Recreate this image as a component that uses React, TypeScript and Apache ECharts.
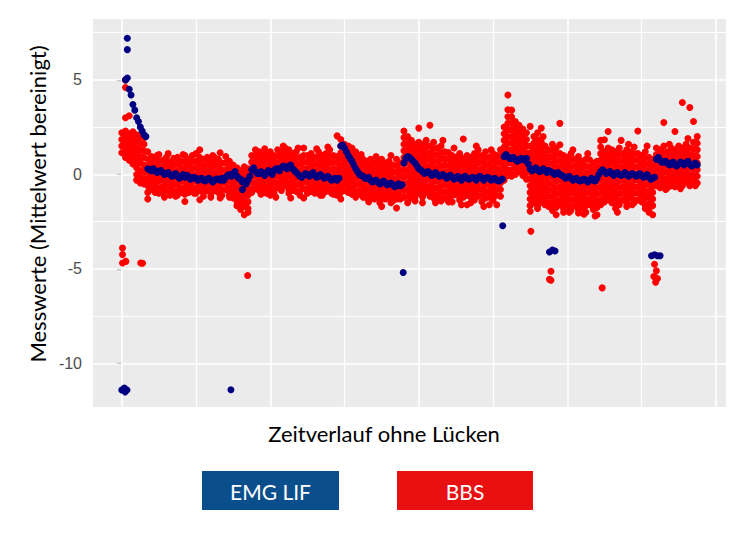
import React, { useEffect, useRef } from "react";
import * as echarts from "echarts";

// ---- axis / grid values ----
const yTicks = [-10, -5, 0, 5];
const yMinorGrid = [-7.5, -2.5, 2.5, 7.5];
const xMajorGrid = [0, 40, 80, 120, 160];
const xMinorGrid = [20, 60, 100, 140];
const X_MIN = -7.75;
const X_MAX = 162.75;
const Y_MIN = -12.3;
const Y_MAX = 8.22;

const seriesNames = ["EMG LIF", "BBS"];
const xTitle = "Zeitverlauf ohne Lücken";
const yTitle = "Messwerte (Mittelwert bereinigt)";

// ---- EMG LIF: one value per time step (index = step) ----
const emgTrend: (number | null)[] = [
  null, 5.0, 4.5, 3.7, 3.0, 2.5, 2.1, 0.3, 0.2, 0.2,
  0.15, 0.1, 0.05, 0.0, -0.05, -0.1, -0.1, -0.15, -0.1, -0.2,
  -0.2, -0.25, -0.3, -0.25, -0.3, -0.3, -0.25, -0.2, -0.15, 0.0,
  0.05, -0.1, -0.25, -0.35, -0.3, 0.25, 0.15, 0.05, 0.05, 0.1,
  0.1, 0.2, 0.3, 0.35, 0.4, 0.45, 0.3, 0.1, -0.1, -0.05,
  0.0, 0.0, -0.05, -0.1, -0.1, -0.15, -0.2, -0.25, -0.3, 1.5,
  1.4, 1.0, 0.7, 0.3, 0.0, -0.1, -0.2, -0.3, -0.35, -0.4,
  -0.45, -0.45, -0.5, -0.55, -0.6, -0.6, 0.6, 0.95, 0.8, 0.6,
  0.3, 0.15, 0.1, 0.05, 0.0, 0.0, -0.05, -0.1, -0.1, -0.15,
  -0.2, -0.2, -0.15, -0.2, -0.2, -0.2, -0.15, -0.2, -0.2, -0.2,
  -0.25, -0.3, -0.3, 0.95, 0.95, 0.85, 0.8, 0.75, 0.8, 0.85,
  0.3, 0.25, 0.25, 0.2, 0.2, 0.2, 0.1, 0.05, 0.0, -0.1,
  -0.15, -0.2, -0.25, -0.3, -0.3, -0.3, -0.3, -0.3, -0.2, 0.15,
  0.15, 0.1, 0.05, 0.05, 0.0, 0.0, 0.0, 0.0, 0.0, -0.05,
  -0.05, -0.1, -0.15, -0.2, 0.8, 0.75, 0.65, 0.6, 0.55, 0.5,
  0.55, 0.6, 0.6, 0.55, 0.5, 0.5,
];

// EMG LIF readings between the steps (index i is drawn at step i + 0.5)
const emgHalf: (number | null)[] = [
  null, null, null, null, null, null, null,
  0.25, 0.3, 0.1, 0.2, 0.0, 0.1, -0.1, 0.05, -0.2, 0.0,
  -0.05, -0.25, -0.15, -0.3, -0.2, -0.35, -0.2, -0.4, -0.25, -0.3,
  -0.3, -0.05, -0.1, 0.15, -0.2, -0.4, -0.5, -0.1, 0.35, 0.05,
  0.15, -0.05, 0.2, 0.0, 0.3, 0.2, 0.45, 0.3, 0.5, 0.2,
  0.0, -0.15, 0.05, -0.1, 0.1, -0.15, 0.0, -0.2, -0.1, -0.3,
  -0.2, -0.2, 1.55, 1.2, 0.85, 0.5, 0.15, -0.05, -0.2, -0.15,
  -0.4, -0.3, -0.5, -0.35, -0.55, -0.45, -0.65, -0.5, -0.55, 0.85,
  0.9, 0.7, 0.45, 0.25, 0.05, 0.15, -0.05, 0.1, -0.1, 0.0,
  -0.2, -0.05, -0.25, -0.1, -0.3, -0.1, -0.25, -0.15, -0.3, -0.1,
  -0.3, -0.15, -0.3, -0.2, -0.35, -0.25, 1.05, 0.85, 0.9, 0.7,
  0.85, 0.75, 0.55, 0.2, 0.35, 0.15, 0.3, 0.1, 0.15, 0.0,
  0.1, -0.05, -0.2, -0.1, -0.3, -0.2, -0.35, -0.25, -0.4, -0.2,
  -0.35, 0.0, 0.25, 0.05, 0.15, -0.05, 0.1, -0.05, 0.1, -0.1,
  0.05, -0.1, 0.05, -0.15, 0.0, -0.25, -0.15, 0.9, 0.65, 0.7,
  0.5, 0.65, 0.45, 0.65, 0.5, 0.7, 0.45, 0.6,
];

// EMG LIF extra points [step, value]
const emgExtra: [number, number][] = [
  [1.5, 7.2], [1.5, 6.6], [1.5, 5.1], [2.5, 4.2], [3.5, 3.4], [4.5, 2.8], [5.5, 2.3], [6.5, 2.0],
  [0, -11.4], [0.7, -11.3], [1.4, -11.4], [0.9, -11.5],
  [29.4, -11.39], [32.5, -0.8], [75.8, -5.19], [102.6, -2.71],
  [115.2, -4.1], [116.0, -4.0], [116.7, -4.05],
  [142.7, -4.3], [143.5, -4.25], [144.3, -4.3], [145.0, -4.3],
];

// ---- BBS: several values per time step (index = step) ----
const bbsColumns: number[][] = [
  [2.2, 1.85, 1.5, 1.15],
  [5.0, 4.6, 3.0, 2.3, 1.95, 1.6, 1.25, 0.9],
  [3.1, 2.15, 1.8, 1.45, 1.1, 0.75],
  [2.25, 1.9, 1.55, 1.2, 0.85, 0.55],
  [2.1, 1.75, 1.4, 1.05, 0.7, 0.35, 0.0, -0.3],
  [2.0, 1.65, 1.3, 0.95, 0.6, 0.2, -0.15, -0.45],
  [1.95, 1.6, 1.25, 0.9, 0.5, 0.15, -0.2, -0.5],
  [1.2, 0.8, 0.45, 0.1, -0.25, -0.6, -0.95, -1.3],
  [0.95, 0.6, 0.25, -0.1, -0.45, -0.8],
  [0.8, 0.45, 0.1, -0.25, -0.6, -0.95],
  // 10
  [1.05, 0.7, 0.35, 0.0, -0.35, -0.7, -1.0],
  [0.75, 0.4, 0.05, -0.3, -0.65, -1.0],
  [0.9, 0.55, 0.2, -0.15, -0.5, -0.85],
  [0.65, 0.3, -0.05, -0.4, -0.75, -1.1],
  [0.85, 0.5, 0.15, -0.2, -0.55, -0.9],
  [0.9, 0.55, 0.2, -0.15, -0.5, -0.85, -1.1],
  [0.7, 0.35, 0.0, -0.35, -0.7, -0.95],
  [1.0, 0.65, 0.3, -0.05, -0.4, -0.75, -1.05, -1.43],
  [0.8, 0.45, 0.1, -0.25, -0.6, -0.95],
  [1.0, 0.65, 0.3, -0.05, -0.4, -0.75],
  // 20
  [1.1, 0.7, 0.35, 0.0, -0.35, -0.7, -1.0],
  [1.3, 0.9, 0.55, 0.2, -0.15, -0.5, -0.85, -1.34],
  [0.8, 0.45, 0.1, -0.25, -0.6, -0.95, -1.15],
  [0.9, 0.55, 0.2, -0.15, -0.5, -0.85],
  [0.7, 0.35, 0.0, -0.35, -0.7, -1.05, -1.2],
  [0.9, 0.55, 0.2, -0.15, -0.5, -0.85],
  [0.8, 0.45, 0.1, -0.25, -0.6, -0.95],
  [0.6, 0.25, -0.1, -0.45, -0.8, -1.1],
  [0.95, 0.6, 0.25, -0.1, -0.45, -0.8],
  [0.7, 0.35, 0.0, -0.35, -0.7, -1.05, -1.2],
  // 30
  [0.5, 0.15, -0.2, -0.55, -0.9, -1.25],
  [0.35, 0.0, -0.35, -0.7, -1.05, -1.4, -1.65],
  [0.2, -0.15, -0.5, -0.85, -1.2, -1.55, -1.85],
  [0.4, 0.05, -0.3, -0.65, -1.0, -1.35, -1.7, -2.13],
  [0.3, -0.05, -0.4, -0.75, -1.1, -1.45, -1.8, -2.0],
  [1.0, 0.65, 0.3, -0.05, -0.4, -0.75, -0.95],
  [1.3, 0.95, 0.6, 0.25, -0.1, -0.45, -0.75],
  [1.2, 0.85, 0.5, 0.15, -0.2, -0.55, -0.85],
  [1.0, 0.65, 0.3, -0.05, -0.4, -0.75, -0.95],
  [1.1, 0.75, 0.4, 0.05, -0.3, -0.65, -1.0],
  // 40
  [1.2, 0.85, 0.5, 0.15, -0.2, -0.55, -0.9, -1.1],
  [1.0, 0.65, 0.3, -0.05, -0.4, -0.75, -1.0],
  [1.3, 0.95, 0.6, 0.25, -0.1, -0.45, -0.7],
  [1.2, 0.85, 0.5, 0.15, -0.2, -0.55, -0.85],
  [1.4, 1.05, 0.7, 0.35, 0.0, -0.35, -0.6],
  [1.3, 0.95, 0.6, 0.25, -0.1, -0.45, -0.8, -1.0],
  [1.1, 0.75, 0.4, 0.05, -0.3, -0.65, -0.85],
  [1.2, 0.85, 0.5, 0.15, -0.2, -0.55, -0.9],
  [0.9, 0.55, 0.2, -0.15, -0.5, -0.85, -1.1],
  [1.4, 1.0, 0.65, 0.3, -0.05, -0.4, -0.75, -1.25],
  // 50
  [1.0, 0.65, 0.3, -0.05, -0.4, -0.75, -1.0],
  [1.1, 0.75, 0.4, 0.05, -0.3, -0.65, -0.9],
  [0.9, 0.55, 0.2, -0.15, -0.5, -0.85, -1.0],
  [1.2, 0.85, 0.5, 0.15, -0.2, -0.55, -0.8],
  [1.0, 0.65, 0.3, -0.05, -0.4, -0.75, -1.1],
  [1.1, 0.75, 0.4, 0.05, -0.3, -0.65, -0.9],
  [1.3, 0.95, 0.6, 0.25, -0.1, -0.45, -0.75],
  [1.0, 0.65, 0.3, -0.05, -0.4, -0.75, -1.05],
  [2.04, 0.95, 0.6, 0.25, -0.1, -0.45, -0.8, -1.1],
  [1.85, 1.5, 1.15, 0.8, 0.45, 0.1, -0.25, -0.6, -0.95, -1.3],
  // 60
  [1.6, 1.25, 0.9, 0.55, 0.2, -0.15, -0.5, -0.85],
  [1.5, 1.15, 0.8, 0.45, 0.1, -0.25, -0.6, -0.95],
  [1.4, 1.05, 0.7, 0.35, 0.0, -0.35, -0.7, -1.05],
  [1.2, 0.85, 0.5, 0.15, -0.2, -0.55, -0.9, -1.2],
  [0.9, 0.55, 0.2, -0.15, -0.5, -0.85, -1.05],
  [0.8, 0.45, 0.1, -0.25, -0.6, -0.95, -1.2],
  [0.7, 0.35, 0.0, -0.35, -0.7, -1.05, -1.25],
  [0.8, 0.45, 0.1, -0.25, -0.6, -0.95, -1.15],
  [0.6, 0.25, -0.1, -0.45, -0.8, -1.15, -1.3],
  [0.7, 0.35, 0.0, -0.35, -0.7, -1.05, -1.2],
  // 70
  [0.8, 0.45, 0.1, -0.25, -0.6, -0.95, -1.3, -1.69],
  [0.6, 0.25, -0.1, -0.45, -0.8, -1.15, -1.3],
  [0.7, 0.35, 0.0, -0.35, -0.7, -1.05, -1.2],
  [0.5, 0.15, -0.2, -0.55, -0.9, -1.25, -1.4],
  [0.8, 0.45, 0.1, -0.25, -0.6, -0.95, -1.3, -1.78],
  [0.6, 0.25, -0.1, -0.45, -0.8, -1.15, -1.3],
  [2.3, 1.95, 1.6, 1.25, 0.9, 0.55, 0.2, -0.15, -0.5, -0.85, -1.2],
  [2.0, 1.65, 1.3, 0.95, 0.6, 0.25, -0.1, -0.45, -0.8, -1.15, -1.5],
  [1.8, 1.45, 1.1, 0.75, 0.4, 0.05, -0.3, -0.65, -1.0, -1.25],
  [1.6, 1.25, 0.9, 0.55, 0.2, -0.15, -0.5, -0.85, -1.2, -1.4],
  // 80
  [2.45, 1.7, 1.35, 1.0, 0.65, 0.3, -0.05, -0.4, -0.75, -1.0],
  [1.6, 1.25, 0.9, 0.55, 0.2, -0.15, -0.5, -0.85, -1.2, -1.5],
  [1.8, 1.45, 1.1, 0.75, 0.4, 0.05, -0.3, -0.65, -0.95],
  [2.6, 1.5, 1.15, 0.8, 0.45, 0.1, -0.25, -0.6, -0.95, -1.15],
  [1.7, 1.35, 1.0, 0.65, 0.3, -0.05, -0.4, -0.75, -1.1, -1.25],
  [1.4, 1.05, 0.7, 0.35, 0.0, -0.35, -0.7, -1.05, -1.2],
  [1.5, 1.15, 0.8, 0.45, 0.1, -0.25, -0.6, -0.95, -1.3, -1.4],
  [1.2, 0.85, 0.5, 0.15, -0.2, -0.55, -0.9, -1.25],
  [1.16, 0.8, 0.45, 0.1, -0.25, -0.6, -0.95, -1.3, -1.45],
  [1.0, 0.65, 0.3, -0.05, -0.4, -0.75, -1.1, -1.45],
  // 90
  [0.9, 0.55, 0.2, -0.15, -0.5, -0.85, -1.07],
  [1.1, 0.75, 0.4, 0.05, -0.3, -0.65, -1.0, -1.35],
  [1.87, 0.85, 0.5, 0.15, -0.2, -0.55, -0.9, -1.2],
  [1.0, 0.65, 0.3, -0.05, -0.4, -0.75, -1.1, -1.6],
  [0.9, 0.55, 0.2, -0.15, -0.5, -0.85, -1.2, -1.5],
  [1.1, 0.75, 0.4, 0.05, -0.3, -0.65, -1.0, -1.35],
  [1.3, 0.95, 0.6, 0.25, -0.1, -0.45, -0.8, -1.15],
  [1.0, 0.65, 0.3, -0.05, -0.4, -0.75, -1.1, -1.45],
  [1.2, 0.85, 0.5, 0.15, -0.2, -0.55, -0.9, -1.25],
  [0.9, 0.55, 0.2, -0.15, -0.5, -0.85, -1.2, -1.6],
  // 100
  [1.1, 0.75, 0.4, 0.05, -0.3, -0.65, -1.0, -1.35],
  [1.0, 0.65, 0.3, -0.05, -0.4, -0.75, -1.1, -1.6],
  [1.3, 0.95, 0.6, 0.25, -0.1, -0.45, -0.8, -1.15],
  [2.5, 2.15, 1.8, 1.45, 1.1, 0.75, 0.4, 0.05, -0.3],
  [4.2, 3.42, 3.05, 2.7, 2.35, 2.0, 1.65, 1.3, 0.95, 0.6, 0.25, -0.05],
  [3.4, 3.05, 2.7, 2.35, 2.0, 1.65, 1.3, 0.95, 0.6, 0.25, -0.1],
  [2.8, 2.45, 2.1, 1.75, 1.4, 1.05, 0.7, 0.35, 0.0],
  [2.6, 2.25, 1.9, 1.55, 1.2, 0.85, 0.5, 0.15],
  [2.4, 2.05, 1.7, 1.35, 1.0, 0.65, 0.3, -0.05],
  [2.2, 1.85, 1.5, 1.15, 0.8, 0.45, 0.1, -0.25],
  // 110
  [2.54, 1.5, 1.15, 0.8, 0.45, 0.1, -0.25, -0.6, -0.95, -1.3, -1.65, -1.95],
  [2.0, 1.65, 1.3, 0.95, 0.6, 0.25, -0.1, -0.45, -0.8, -1.15, -1.5],
  [2.2, 1.85, 1.5, 1.15, 0.8, 0.45, 0.1, -0.25, -0.6, -0.95, -1.3, -1.65, -1.8],
  [2.45, 1.7, 1.35, 1.0, 0.65, 0.3, -0.05, -0.4, -0.75, -1.1, -1.45],
  [1.5, 1.15, 0.8, 0.45, 0.1, -0.25, -0.6, -0.95, -1.3, -1.6],
  [1.3, 0.95, 0.6, 0.25, -0.1, -0.45, -0.8, -1.15, -1.5, -1.7],
  [1.6, 1.25, 0.9, 0.55, 0.2, -0.15, -0.5, -0.85, -1.2, -1.55, -1.9],
  [1.4, 1.05, 0.7, 0.35, 0.0, -0.35, -0.7, -1.05, -1.4, -1.75, -2.13],
  [2.7, 1.57, 1.1, 0.75, 0.4, 0.05, -0.3, -0.65, -1.0, -1.35, -1.6],
  [1.0, 0.65, 0.3, -0.05, -0.4, -0.75, -1.1, -1.45, -1.8, -2.0],
  // 120
  [0.9, 0.55, 0.2, -0.15, -0.5, -0.85, -1.2, -1.55, -1.7],
  [1.1, 0.75, 0.4, 0.05, -0.3, -0.65, -1.0, -1.35, -1.7, -1.9],
  [0.8, 0.45, 0.1, -0.25, -0.6, -0.95, -1.3, -1.65],
  [0.95, 0.6, 0.25, -0.1, -0.45, -0.8, -1.15, -1.5, -1.85, -2.04],
  [0.7, 0.35, 0.0, -0.35, -0.7, -1.05, -1.4, -1.75],
  [0.8, 0.45, 0.1, -0.25, -0.6, -0.95, -1.3, -1.65, -2.0],
  [0.78, 0.4, 0.05, -0.3, -0.65, -1.0, -1.35, -1.6],
  [0.6, 0.25, -0.1, -0.45, -0.8, -1.15, -1.5, -1.85],
  [0.7, 0.35, 0.0, -0.35, -0.7, -1.05, -1.4, -1.75, -2.13],
  [1.8, 1.45, 1.1, 0.75, 0.4, 0.05, -0.3, -0.65, -1.0, -1.35, -1.6],
  // 130
  [1.83, 1.2, 0.85, 0.5, 0.15, -0.2, -0.55, -0.9, -1.25, -1.45],
  [2.27, 1.4, 1.05, 0.7, 0.35, 0.0, -0.35, -0.7, -1.05, -1.34],
  [1.3, 0.95, 0.6, 0.25, -0.1, -0.45, -0.8, -1.15, -1.5],
  [1.2, 0.85, 0.5, 0.15, -0.2, -0.55, -0.9, -1.25, -1.6, -1.8],
  [1.4, 1.05, 0.7, 0.35, 0.0, -0.35, -0.7, -1.05, -1.4, -1.6],
  [1.1, 0.75, 0.4, 0.05, -0.3, -0.65, -1.0, -1.35],
  [1.3, 0.95, 0.6, 0.25, -0.1, -0.45, -0.8, -1.15, -1.5, -1.7],
  [1.2, 0.85, 0.5, 0.15, -0.2, -0.55, -0.9, -1.25],
  [1.45, 1.1, 0.75, 0.4, 0.05, -0.3, -0.65, -1.0, -1.35, -1.5],
  [2.3, 1.1, 0.75, 0.4, 0.05, -0.3, -0.65, -1.0, -1.35],
  // 140
  [1.0, 0.65, 0.3, -0.05, -0.4, -0.75, -1.1, -1.45],
  [1.2, 0.85, 0.5, 0.15, -0.2, -0.55, -0.9, -1.25, -1.6, -1.8],
  [0.9, 0.55, 0.2, -0.15, -0.5, -0.85, -1.2, -1.55, -1.9, -2.0],
  [0.8, 0.45, 0.1, -0.25, -0.6, -0.95, -1.3, -1.65, -2.13],
  [1.4, 1.05, 0.7, 0.35, 0.0, -0.35, -0.6],
  [1.3, 0.95, 0.6, 0.25, -0.1, -0.45, -0.7],
  [2.75, 1.5, 1.15, 0.8, 0.45, 0.1, -0.25, -0.5],
  [1.2, 0.85, 0.5, 0.15, -0.2, -0.55, -0.7],
  [1.4, 1.05, 0.7, 0.35, 0.0, -0.35, -0.6],
  [2.27, 1.3, 0.95, 0.6, 0.25, -0.1, -0.45, -0.65],
  // 150
  [1.5, 1.15, 0.8, 0.45, 0.1, -0.25, -0.5],
  [3.8, 1.4, 1.05, 0.7, 0.35, 0.0, -0.35, -0.6],
  [1.6, 1.25, 0.9, 0.55, 0.2, -0.15, -0.4],
  [3.54, 1.4, 1.05, 0.7, 0.35, 0.0, -0.35, -0.6],
  [2.8, 1.7, 1.35, 1.0, 0.65, 0.3, -0.05, -0.3],
  [2.0, 1.65, 1.3, 0.95, 0.6, 0.25, -0.1, -0.45],
];

// BBS isolated points [step, value]
const bbsExtra: [number, number][] = [
  [0.2, -3.89], [0.2, -4.24], [0.2, -4.68], [1.1, -4.6],
  [5.1, -4.68], [5.6, -4.7], [33.9, -5.35],
  [110.2, -3.01], [115.6, -5.12], [115.6, -5.6], [115.2, -5.55],
  [129.4, -6.0],
  [143.5, -4.75], [144.0, -5.1], [143.3, -5.4], [144.3, -5.5], [143.8, -5.7],
  // ragged upper edge of the band
  [9.5, 1.0], [12.5, 1.1], [16.5, 1.05], [24.5, 1.0], [26.5, 1.15], [38.5, 1.35],
  [43.5, 1.5], [47.5, 1.4], [52.5, 1.35], [55.5, 1.45], [64.5, 1.05], [68.5, 0.95],
  [72.5, 1.0], [86.5, 1.8], [89.5, 1.4], [95.5, 1.5], [99.5, 1.3], [113.5, 2.0],
  [121.5, 1.3], [125.5, 1.1], [134.5, 1.8], [136.5, 1.6], [141.5, 1.5], [147.5, 1.6],
  [152.5, 1.9],
  // ragged lower edge of the band
  [11.5, -1.2], [14.5, -1.15], [19.5, -1.0], [26.5, -1.25], [37.5, -1.05], [41.5, -1.2],
  [45.5, -1.25], [53.5, -1.1], [56.5, -1.0], [66.5, -1.45], [69.5, -1.5], [72.5, -1.5],
  [84.5, -1.5], [91.5, -1.6], [97.5, -1.7], [120.5, -2.0], [124.5, -2.1], [127.5, -2.2],
  [133.5, -2.0], [137.5, -1.6], [146.5, -0.8], [150.5, -0.75], [154.5, -0.6],
];

const emgData: [number, number][] = [
  ...emgTrend
    .map((v, i) => (v === null ? null : ([i, v] as [number, number])))
    .filter((p): p is [number, number] => p !== null),
  ...emgHalf
    .map((v, i) => (v === null ? null : ([i + 0.5, v] as [number, number])))
    .filter((p): p is [number, number] => p !== null),
  ...emgExtra,
];
const bbsData: [number, number][] = [
  ...bbsColumns.flatMap((vals, i) => vals.map((v) => [i, v] as [number, number])),
  ...bbsExtra,
];

export default function App() {
  const ref = useRef<HTMLDivElement>(null);
  useEffect(() => {
    if (!ref.current) return;
    const chart = echarts.init(ref.current, undefined, { renderer: "svg" });
    const gridLines = [
      ...yTicks.map((v) => ({ yAxis: v, lineStyle: { width: 1.6 } })),
      ...yMinorGrid.map((v) => ({ yAxis: v, lineStyle: { width: 1.1 } })),
      ...xMajorGrid.map((v) => ({ xAxis: v, lineStyle: { width: 1.6 } })),
      ...xMinorGrid.map((v) => ({ xAxis: v, lineStyle: { width: 1.2 } })),
    ];
    chart.setOption({
      animation: false,
      backgroundColor: "#FFFFFF",
      grid: {
        left: 93,
        right: 24,
        top: 19,
        bottom: 127,
        show: true,
        backgroundColor: "#EBEBEB",
        borderWidth: 0,
      },
      xAxis: {
        type: "value",
        min: X_MIN,
        max: X_MAX,
        show: false,
        splitLine: { show: false },
      },
      yAxis: {
        type: "value",
        min: Y_MIN,
        max: Y_MAX,
        splitLine: { show: false },
        axisLine: { show: false },
        axisTick: {
          show: true,
          customValues: yTicks,
          length: 5,
          lineStyle: { color: "#333333", width: 1.2 },
        },
        axisLabel: {
          customValues: yTicks,
          color: "#4D4D4D",
          fontSize: 16,
          fontFamily: "Liberation Sans",
          margin: 11,
        },
      },
      series: [
        {
          type: "scatter",
          name: "grid",
          data: [],
          z: 1,
          silent: true,
          markLine: {
            z: 1,
            silent: true,
            symbol: ["none", "none"],
            label: { show: false },
            emphasis: { disabled: true },
            lineStyle: { color: "#FFFFFF", type: "solid" },
            data: gridLines,
          },
        },
        {
          type: "scatter",
          name: seriesNames[1],
          data: bbsData,
          symbolSize: 7,
          itemStyle: { color: "#FF0000", opacity: 1 },
          z: 2,
        },
        {
          type: "scatter",
          name: seriesNames[0],
          data: emgData,
          symbolSize: 7,
          itemStyle: { color: "#000080", opacity: 1 },
          z: 3,
        },
      ],
      graphic: [
        {
          type: "text",
          x: 37,
          y: 204,
          rotation: Math.PI / 2,
          style: {
            text: yTitle,
            fill: "#000000",
            fontSize: 22,
            fontFamily: "Lato",
            align: "center",
            verticalAlign: "middle",
          },
        },
        {
          type: "text",
          x: 384,
          y: 433,
          style: {
            text: xTitle,
            fill: "#000000",
            fontSize: 22,
            fontFamily: "Lato",
            align: "center",
            verticalAlign: "middle",
          },
        },
        {
          type: "rect",
          shape: { x: 202, y: 471, width: 137, height: 39 },
          style: { fill: "#0A4F8C" },
        },
        {
          type: "text",
          x: 270.5,
          y: 491,
          style: {
            text: seriesNames[0],
            fill: "#FFFFFF",
            fontSize: 21,
            fontFamily: "Lato",
            align: "center",
            verticalAlign: "middle",
          },
        },
        {
          type: "rect",
          shape: { x: 397, y: 471, width: 136, height: 39 },
          style: { fill: "#E81010" },
        },
        {
          type: "text",
          x: 465,
          y: 491,
          style: {
            text: seriesNames[1],
            fill: "#FFFFFF",
            fontSize: 21,
            fontFamily: "Lato",
            align: "center",
            verticalAlign: "middle",
          },
        },
      ],
    });
    return () => chart.dispose();
  }, []);
  return (
    <div
      ref={ref}
      style={{ position: "absolute", left: 0, top: 0, width: 750, height: 534 }}
    />
  );
}
